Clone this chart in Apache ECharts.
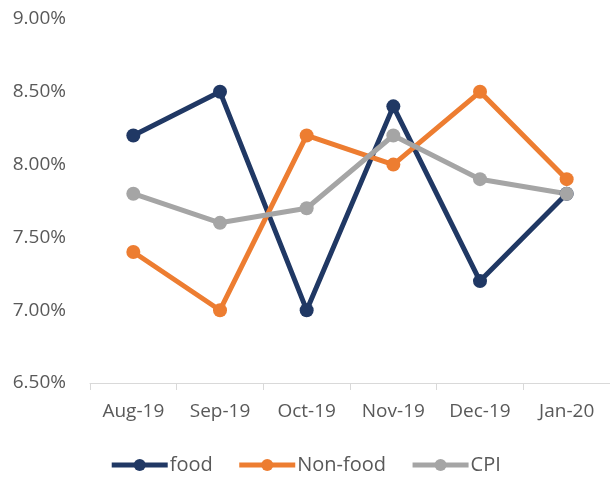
<!DOCTYPE html>
<html><head><meta charset="utf-8">
<script src="https://cdn.jsdelivr.net/npm/echarts@6/dist/echarts.min.js"></script>
<style>html,body{margin:0;padding:0;background:#fff}#c{width:610px;height:481px}</style>
</head><body><div id="c"></div>
<script>
const categories = ['Aug-19','Sep-19','Oct-19','Nov-19','Dec-19','Jan-20'];
const food = [8.2, 8.5, 7.0, 8.4, 7.2, 7.8];
const nonFood = [7.4, 7.0, 8.2, 8.0, 8.5, 7.9];
const cpi = [7.8, 7.6, 7.7, 8.2, 7.9, 7.8];
const seriesNames = ['food','Non-food','CPI'];
const colors = ['#203864','#ED7D31','#A5A5A5'];
const font = '"Open Sans", sans-serif';
const chart = echarts.init(document.getElementById('c'));
function mk(name, data, color){
  return {name, type:'line', data, color, symbol:'circle', symbolSize:14,
    lineStyle:{width:5, color}, itemStyle:{color}, emphasis:{disabled:true}};
}
chart.setOption({
  animation:false,
  grid:{left:90, right:0, top:19, bottom:98, containLabel:false},
  legend:{bottom:1, left:'center', itemWidth:56, itemHeight:15, itemGap:24,
    lineStyle:{width:5},
    textStyle:{fontFamily:font, fontSize:20, color:'#595959', padding:[0,0,0,-3]},
    data:seriesNames},
  xAxis:{type:'category', data:categories, boundaryGap:true,
    axisLine:{lineStyle:{color:'#D9D9D9', width:1}},
    axisTick:{show:true, alignWithLabel:false, length:7, lineStyle:{color:'#D9D9D9'}},
    axisLabel:{fontFamily:font, fontSize:19, color:'#595959', margin:19}},
  yAxis:{type:'value', min:6.5, max:9.0, interval:0.5,
    axisLine:{show:false}, axisTick:{show:false}, splitLine:{show:false},
    axisLabel:{fontFamily:font, fontSize:19, color:'#595959', margin:24,
      formatter:v=>v.toFixed(2)+'%'}},
  series:[mk(seriesNames[0], food, colors[0]), mk(seriesNames[1], nonFood, colors[1]), mk(seriesNames[2], cpi, colors[2])]
});
</script></body></html>
